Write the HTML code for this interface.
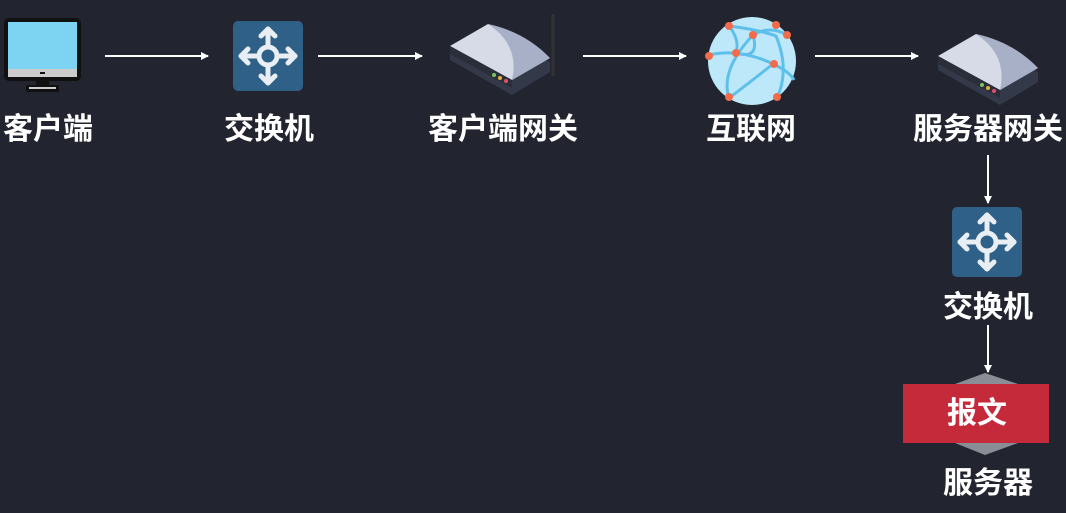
<!DOCTYPE html>
<html><head><meta charset="utf-8"><style>
html,body{margin:0;padding:0;}
body{width:1066px;height:513px;background:#22242f;position:relative;overflow:hidden;font-family:"Liberation Sans","Noto Sans CJK SC",sans-serif;}
.l{position:absolute;color:#fff;font-weight:bold;font-size:30px;line-height:34px;white-space:nowrap;transform:translateX(-50%);}
svg{position:absolute;left:0;top:0;}
</style></head><body>
<svg width="1066" height="513" viewBox="0 0 1066 513">
<defs><marker id="a" markerWidth="8" markerHeight="8" refX="7" refY="4" orient="auto" markerUnits="userSpaceOnUse"><path d="M0,0 L8,4 L0,8 Z" fill="#fff"/></marker>
<g id="sw"><rect x="0" y="0" width="70" height="70" rx="5" fill="#2e6088"/>
<g stroke="#e8eef3" stroke-width="5" fill="none" stroke-linecap="round" stroke-linejoin="round">
<circle cx="35" cy="35" r="9"/><path d="M35 26V8M35 44V62M26 35H8M44 35H62"/>
<path d="M28 15L35 8L42 15M28 55L35 62L42 55M15 28L8 35L15 42M55 28L62 35L55 42"/></g></g>
<g id="rt"><path d="M0 30 L38 8 L100 42 L100 52 L62 75 L0 40 Z" fill="#34394a"/>
<path d="M0 26 L38 4 L100 38 L62 60 Z" fill="#d7dbe7"/><path d="M38 4 Q75 12 100 38 L62 60 Q70 25 38 4Z" fill="#a8b0c7"/>
<path d="M0 26 L62 60 L62 68 L0 34Z" fill="#2a2e3b"/>
<circle cx="44" cy="55" r="2" fill="#7ac45c"/><circle cx="50" cy="58" r="2" fill="#e0b040"/><circle cx="56" cy="61" r="2" fill="#e05060"/></g></defs>
<rect x="4" y="18" width="77" height="63" rx="5" fill="#111"/>
<rect x="8" y="22" width="69" height="47" fill="#7dd3f2"/><rect x="8" y="69" width="69" height="8" fill="#ccc"/>
<rect x="40" y="72" width="5" height="2" fill="#111"/>
<rect x="36" y="80" width="13" height="7" fill="#111"/><rect x="26" y="85" width="33" height="7" rx="1" fill="#111"/><rect x="29" y="87" width="27" height="2" fill="#ccc"/>
<g stroke="#fff" stroke-width="2" marker-end="url(#a)">
<line x1="105" y1="56" x2="208" y2="56"/><line x1="318" y1="56" x2="422" y2="56"/>
<line x1="583" y1="56" x2="686" y2="56"/><line x1="815" y1="56" x2="918" y2="56"/>
<line x1="988" y1="155" x2="988" y2="203"/><line x1="988" y1="325" x2="988" y2="372"/></g>
<use href="#sw" x="233" y="21"/><use href="#sw" x="952" y="207"/>
<line x1="553" y1="14" x2="553" y2="76" stroke="#333" stroke-width="3"/>
<use href="#rt" x="450" y="20"/>
<use href="#rt" x="938" y="30"/>
<circle cx="752" cy="61" r="44" fill="#bde8fa"/>
<g stroke="#5ec0ea" stroke-width="3" fill="none">
<path d="M729 26 Q760 30 776 36 Q790 70 777 98"/><path d="M709 55 Q740 48 773 64 Q790 72 794 80"/>
<path d="M753 35 Q720 70 729 98"/><path d="M729 26 Q740 40 736 53 Q760 60 753 35 Q770 25 787 35"/><path d="M773 64 Q740 90 729 98"/></g>
<g fill="#f26b4a"><circle cx="729" cy="26" r="4"/><circle cx="776" cy="25" r="4"/><circle cx="753" cy="35" r="4"/><circle cx="787" cy="35" r="4"/>
<circle cx="709" cy="56" r="4"/><circle cx="736" cy="53" r="4"/><circle cx="774" cy="64" r="4"/><circle cx="729" cy="97" r="4"/><circle cx="777" cy="97" r="4"/></g>
<path d="M955 384 L985 373 L1018 384 L1018 443 L985 455 L955 443Z" fill="#8a8d95"/>
<rect x="903" y="384" width="146" height="59" fill="#c52a3a"/>
</svg>
<div class="l" style="left:48px;top:113px">客户端</div>
<div class="l" style="left:269px;top:113px">交换机</div>
<div class="l" style="left:503px;top:113px">客户端网关</div>
<div class="l" style="left:751px;top:113px">互联网</div>
<div class="l" style="left:988px;top:113px">服务器网关</div>
<div class="l" style="left:988px;top:291px">交换机</div>
<div class="l" style="left:977px;top:397px">报文</div>
<div class="l" style="left:988px;top:467px">服务器</div>
</body></html>
